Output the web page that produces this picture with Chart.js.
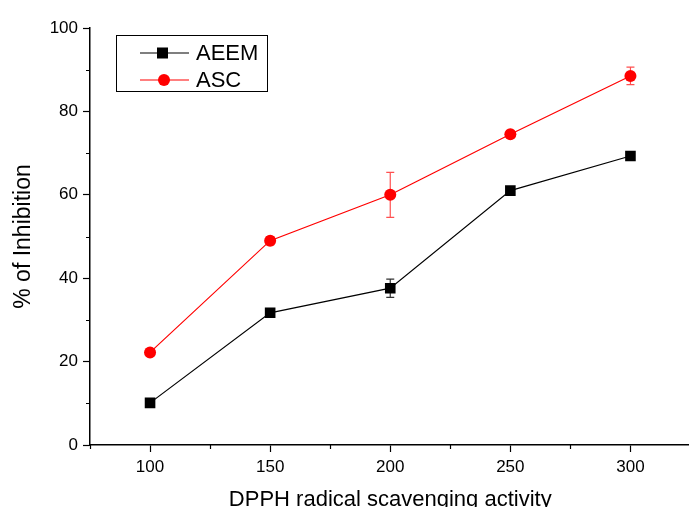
<!DOCTYPE html>
<html>
<head>
<meta charset="utf-8">
<script src="https://cdn.jsdelivr.net/npm/chart.js@4"></script>
<style>
html, body { margin: 0; padding: 0; background: #fff; overflow: hidden; }
#wrap { width: 689px; height: 507px; overflow: hidden; }
</style>
</head>
<body>
<div id="wrap"><canvas id="myChart" width="698" height="507"></canvas></div>
<script>
// values
const concentrations = [100, 150, 200, 250, 300];
const aeemValues = [10.1, 31.7, 37.6, 61.0, 69.3];
const aeemErrors = [0.5, 0.6, 2.2, 0.5, 0.6];
const ascValues = [22.2, 49.0, 60.0, 74.5, 88.5];
const ascErrors = [0.7, 1.0, 5.4, 0.5, 2.1];

const xTickValues = [100, 150, 200, 250, 300];
const xMinorTicks = [75, 125, 175, 225, 275, 325];
const yTickValues = [0, 20, 40, 60, 80, 100];
const yMinorTicks = [10, 30, 50, 70, 90];

const FONT = '"Liberation Sans", Arial, sans-serif';

// error bars, drawn before the markers so these sit on top
const errorBars = {
    id: 'errorBars',
    beforeDatasetsDraw(chart) {
        const ctx = chart.ctx;
        const yScale = chart.scales.y;
        ctx.save();
        chart.data.datasets.forEach((ds, i) => {
            const meta = chart.getDatasetMeta(i);
            ctx.strokeStyle = ds.errorColor;
            ctx.lineWidth = 1.2;
            meta.data.forEach((pt, j) => {
                const v = ds.data[j].y;
                const e = ds.errors[j];
                const top = yScale.getPixelForValue(v + e);
                const bot = yScale.getPixelForValue(v - e);
                ctx.beginPath();
                ctx.moveTo(pt.x, top); ctx.lineTo(pt.x, bot);
                ctx.moveTo(pt.x - 4, top); ctx.lineTo(pt.x + 4, top);
                ctx.moveTo(pt.x - 4, bot); ctx.lineTo(pt.x + 4, bot);
                ctx.stroke();
            });
        });
        ctx.restore();
    }
};

// short minor ticks on both axes
const minorTicks = {
    id: 'minorTicks',
    afterDraw(chart) {
        const ctx = chart.ctx;
        const x = chart.scales.x, y = chart.scales.y;
        const area = chart.chartArea;
        ctx.save();
        ctx.strokeStyle = '#000';
        ctx.lineWidth = 1.2;
        ctx.beginPath();
        yMinorTicks.forEach(v => {
            const py = Math.round(y.getPixelForValue(v)) + 0.5;
            ctx.moveTo(area.left - 4, py); ctx.lineTo(area.left, py);
        });
        xMinorTicks.forEach(v => {
            const px = Math.round(x.getPixelForValue(v)) + 0.5;
            ctx.moveTo(px, area.bottom); ctx.lineTo(px, area.bottom + 4);
        });
        ctx.stroke();
        ctx.restore();
    }
};

// boxed legend in the top-left corner
const boxLegend = {
    id: 'boxLegend',
    afterDraw(chart) {
        const ctx = chart.ctx;
        ctx.save();
        ctx.fillStyle = '#fff';
        ctx.fillRect(116.5, 35.5, 151, 56);
        ctx.strokeStyle = '#000';
        ctx.lineWidth = 1;
        ctx.strokeRect(116.5, 35.5, 151, 56);
        chart.data.datasets.forEach((ds, i) => {
            const yy = 53 + i * 27;
            ctx.strokeStyle = ds.borderColor;
            ctx.lineWidth = 1.2;
            ctx.beginPath(); ctx.moveTo(140, yy); ctx.lineTo(189, yy); ctx.stroke();
            ctx.fillStyle = ds.backgroundColor;
            if (ds.pointStyle === 'rect') {
                ctx.fillRect(157, yy - 5.5, 11, 11);
            } else {
                ctx.beginPath(); ctx.arc(164, yy, 6, 0, Math.PI * 2); ctx.fill();
            }
            ctx.fillStyle = '#000';
            ctx.font = '22px ' + FONT;
            ctx.textBaseline = 'middle';
            ctx.fillText(ds.label, 196, yy + 1);
        });
        ctx.restore();
    }
};

const toPoints = vals => vals.map((v, i) => ({ x: concentrations[i], y: v }));

new Chart(document.getElementById('myChart'), {
    type: 'line',
    data: {
        datasets: [{
            label: 'AEEM',
            data: toPoints(aeemValues),
            errors: aeemErrors,
            errorColor: '#333',
            borderColor: '#000',
            backgroundColor: '#000',
            borderWidth: 1.2,
            pointStyle: 'rect',
            pointRadius: 7.5,
            pointBorderWidth: 0
        }, {
            label: 'ASC',
            data: toPoints(ascValues),
            errors: ascErrors,
            errorColor: '#ff5050',
            borderColor: '#ff0000',
            backgroundColor: '#ff0000',
            borderWidth: 1.2,
            pointStyle: 'circle',
            pointRadius: 6,
            pointBorderWidth: 0
        }]
    },
    options: {
        responsive: false,
        animation: false,
        layout: { padding: { top: 28, right: 0, left: 0, bottom: 0 } },
        plugins: {
            legend: { display: false },
            tooltip: { enabled: false }
        },
        scales: {
            x: {
                type: 'linear',
                min: 75,
                max: 325,
                afterBuildTicks: s => { s.ticks = xTickValues.map(v => ({ value: v })); },
                afterFit: s => { s.height = 62; },
                border: { display: true, color: '#000', width: 1.5 },
                grid: { drawOnChartArea: false, drawTicks: true, tickLength: 7, tickColor: '#000', tickWidth: 1.2 },
                ticks: { color: '#000', font: { family: FONT, size: 17 }, padding: 5, maxRotation: 0 },
                title: { display: true, text: 'DPPH radical scavenging activity', color: '#000', font: { family: FONT, size: 22 }, padding: { top: 0, bottom: -6 } }
            },
            y: {
                min: 0,
                max: 100,
                afterBuildTicks: s => { s.ticks = yTickValues.map(v => ({ value: v })); },
                afterFit: s => { s.width = 90; },
                border: { display: true, color: '#000', width: 1.5 },
                grid: { drawOnChartArea: false, drawTicks: true, tickLength: 7, tickColor: '#000', tickWidth: 1.2 },
                ticks: { color: '#000', font: { family: FONT, size: 17 }, padding: 5 },
                title: { display: true, text: '% of Inhibition', color: '#000', font: { family: FONT, size: 23 }, padding: { top: 10, bottom: 0 } }
            }
        }
    },
    plugins: [errorBars, minorTicks, boxLegend]
});
</script>
</body>
</html>
